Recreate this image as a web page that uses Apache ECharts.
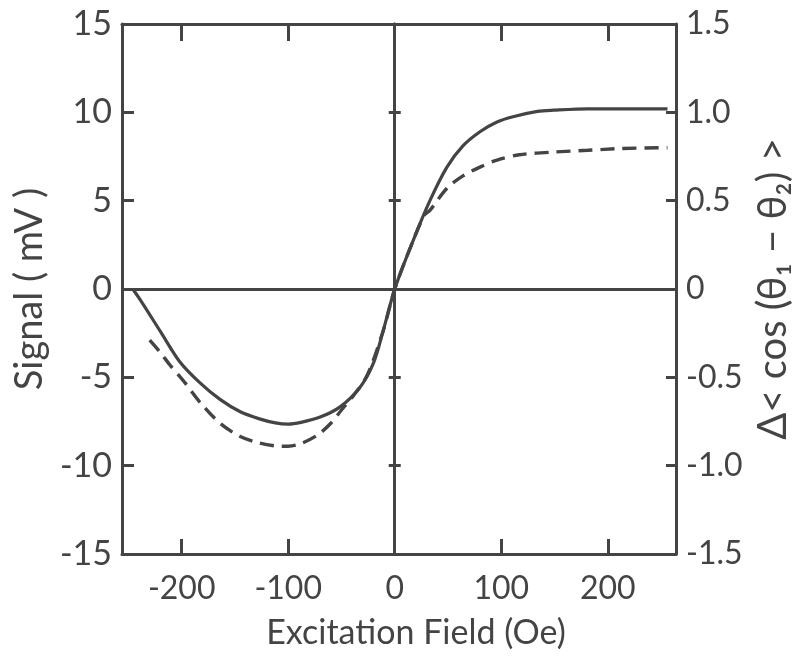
<!DOCTYPE html>
<html>
<head>
<meta charset="utf-8">
<script src="https://cdn.jsdelivr.net/npm/echarts@6/dist/echarts.min.js"></script>
<style>
html,body{margin:0;padding:0;background:#fff;}
#chart{width:806px;height:660px;}
</style>
</head>
<body>
<div id="chart"></div>
<script>
// ---- data ----
const fieldSolid  = [-246, -239, -220, -202, -183, -164, -145, -127, -112, -100, -88, -70, -52, -33, -20, -11, 0, 17, 33, 49, 64, 80, 96, 111, 134, 149, 181, 212, 256];
const signalSolid = [0, -0.6, -2.4, -4.1, -5.3, -6.25, -6.95, -7.35, -7.58, -7.65, -7.55, -7.25, -6.7, -5.6, -4.2, -2.4, 0, 2.7, 5.0, 6.9, 8.1, 8.9, 9.45, 9.75, 10.05, 10.12, 10.2, 10.2, 10.2];

const fieldDashed  = [-230, -220, -211, -197, -183, -164, -145, -127, -112, -100, -88, -72, -60, -50, -39, -26, -11, 0, 17, 28, 33, 49, 64, 80, 96, 117, 149, 181, 212, 256];
const signalDashed = [-2.9, -3.6, -4.3, -5.3, -6.4, -7.6, -8.35, -8.72, -8.88, -8.9, -8.75, -8.25, -7.6, -6.85, -6.05, -4.9, -2.4, 0, 2.7, 4.2, 4.45, 5.7, 6.4, 6.9, 7.3, 7.6, 7.75, 7.85, 7.95, 8.0];

const xMin = -256, xMax = 264;
const xTicks = [-200, -100, 0, 100, 200];
const leftTickLabels  = ['-15', '-10', '-5', '0', '5', '10', '15'];
const rightTickLabels = ['-1.5', '-1.0', '-0.5', '0', '0.5', '1.0', '1.5'];

const xTitle = 'Excitation Field (Oe)';
const yTitle = 'Signal ( mV )';
const y2Title = 'Δ< cos (θ₁ − θ₂) >';

// ---- chart ----
const ink = '#444444';
const font = 'Lato, "Open Sans", "DejaVu Sans", sans-serif';
const zip = (xs, ys) => xs.map((x, i) => [x, ys[i]]);

const chart = echarts.init(document.getElementById('chart'), null, {renderer: 'canvas'});

const frameLine = {show: true, onZero: false, lineStyle: {color: ink, width: 3}};

chart.setOption({
  backgroundColor: '#ffffff',
  animation: false,
  grid: {left: 122, right: 130, top: 24, bottom: 106, containLabel: false},
  xAxis: [
    { // bottom
      type: 'value', min: xMin, max: xMax, position: 'bottom',
      axisLine: frameLine,
      axisTick: {show: true, inside: true, length: 15, customValues: xTicks, lineStyle: {color: ink, width: 3}},
      axisLabel: {show: true, customValues: xTicks, color: ink, fontFamily: font, fontWeight: 'normal', fontSize: 32, margin: 19},
      splitLine: {show: false},
      name: xTitle, nameLocation: 'middle', nameGap: 62,
      nameTextStyle: {color: ink, fontFamily: font, fontWeight: 'normal', fontSize: 34, padding: [0, 0, 0, 34]}
    },
    { // top
      type: 'value', min: xMin, max: xMax, position: 'top',
      axisLine: frameLine,
      axisTick: {show: true, inside: true, length: 17, customValues: xTicks, lineStyle: {color: ink, width: 3}},
      axisLabel: {show: false},
      splitLine: {show: false}
    }
  ],
  yAxis: [
    { // left
      type: 'value', min: -15, max: 15, interval: 5, position: 'left',
      axisLine: frameLine,
      axisTick: {show: true, inside: true, length: 12, lineStyle: {color: ink, width: 3}},
      axisLabel: {
        color: ink, fontFamily: font, fontWeight: 'normal', fontSize: 34, margin: 10,
        formatter: v => leftTickLabels[Math.round((v + 15) / 5)]
      },
      splitLine: {show: false},
      name: yTitle, nameLocation: 'middle', nameGap: 70, nameRotate: 90,
      nameTextStyle: {color: ink, fontFamily: font, fontWeight: 'normal', fontSize: 38}
    },
    { // right
      type: 'value', min: -1.5, max: 1.5, interval: 0.5, position: 'right',
      axisLine: frameLine,
      axisTick: {show: true, inside: true, length: 10, lineStyle: {color: ink, width: 3}},
      axisLabel: {
        color: ink, fontFamily: font, fontWeight: 'normal', fontSize: 32, margin: 10,
        formatter: v => rightTickLabels[Math.round((v + 1.5) / 0.5)]
      },
      splitLine: {show: false},
      name: y2Title, nameLocation: 'middle', nameGap: 76, nameRotate: 90,
      nameTextStyle: {color: ink, fontFamily: font, fontWeight: 'normal', fontSize: 40}
    },
    { // vertical zero line, ticks to the right
      type: 'value', min: -15, max: 15, interval: 5, position: 'left',
      axisLine: {show: true, onZero: true, onZeroAxisIndex: 0, lineStyle: {color: ink, width: 3}},
      axisTick: {show: true, inside: true, length: 6, lineStyle: {color: ink, width: 3}},
      axisLabel: {show: false}, splitLine: {show: false}
    },
    { // vertical zero line, ticks to the left
      type: 'value', min: -15, max: 15, interval: 5, position: 'right',
      axisLine: {show: true, onZero: true, onZeroAxisIndex: 0, lineStyle: {color: ink, width: 3}},
      axisTick: {show: true, inside: true, length: 6, lineStyle: {color: ink, width: 3}},
      axisLabel: {show: false}, splitLine: {show: false}
    }
  ],
  series: [
    {
      type: 'line', xAxisIndex: 0, yAxisIndex: 0, data: zip(fieldSolid, signalSolid),
      smooth: 0.3, showSymbol: false, symbol: 'none',
      lineStyle: {color: ink, width: 3.2, type: 'solid'}, z: 5,
      markLine: {
        silent: true, symbol: 'none', label: {show: false},
        lineStyle: {color: ink, width: 3, type: 'solid'},
        data: [[{coord: [fieldSolid[0], 0]}, {coord: [xMax, 0]}]]
      }
    },
    {
      type: 'line', xAxisIndex: 0, yAxisIndex: 0, data: zip(fieldDashed, signalDashed),
      smooth: 0.3, showSymbol: false, symbol: 'none',
      lineStyle: {color: ink, width: 3.4, type: [14, 8]}, z: 4
    }
  ]
});
</script>
</body>
</html>
